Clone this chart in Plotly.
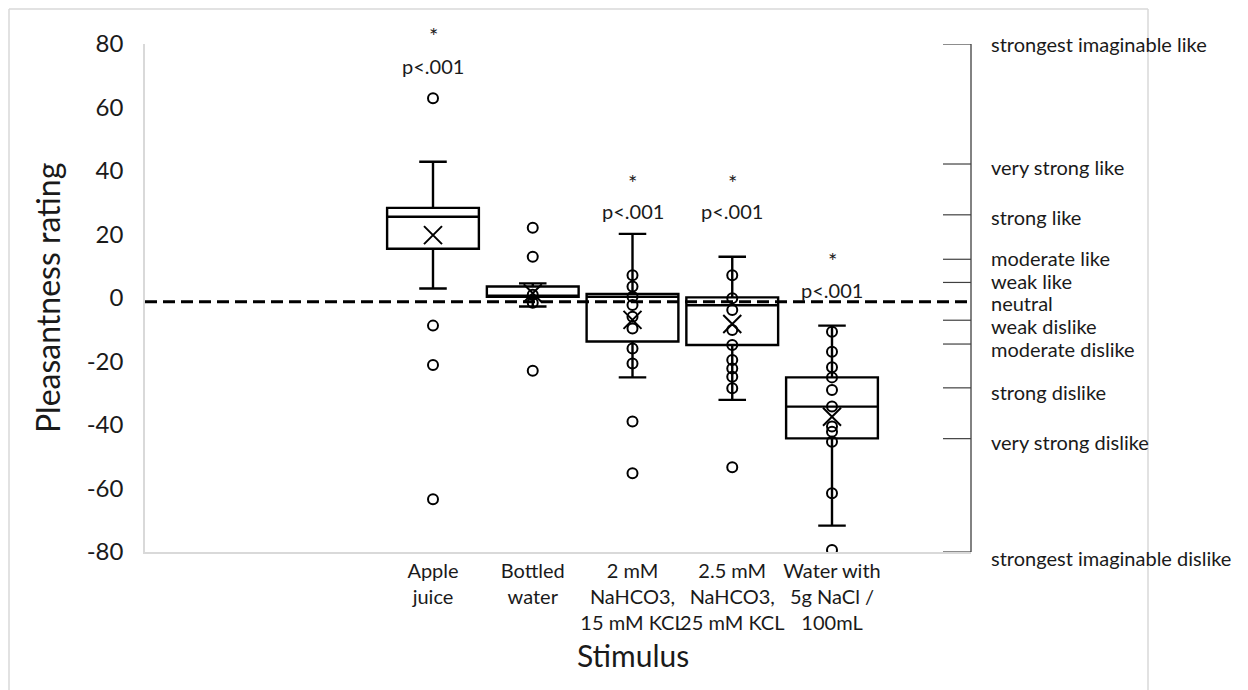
import plotly.graph_objects as go

# ---------------- data ----------------
categories = ["Apple<br>juice", "Bottled<br>water", "2 mM<br>NaHCO3,<br>15 mM KCL",
              "2.5 mM<br>NaHCO3,<br>25 mM KCL", "Water with<br>5g NaCl /<br>100mL"]
positions = [1, 2, 3, 4, 5]

q1 = [15.5, 0.4, -13.7, -14.8, -44.2]
median = [25.6, 0.5, 0.4, -2.3, -34.2]
q3 = [28.4, 3.6, 1.3, 0.2, -25.0]
lower_whisker = [3.0, -2.7, -25.0, -32.1, -71.7]
upper_whisker = [42.9, 4.6, 20.2, 13.0, -8.7]
means = [19.8, 1.5, -6.9, -8.2, -37.4]

points_apple = [62.9, -8.7, -21.1, -63.4]
points_bottled = [22.1, 13.0, 1.0, -1.5, -22.9]
points_nahco3_2 = [7.2, 3.6, 0.4, -2.2, -5.9, -9.6, -15.9, -20.6, -38.9, -55.2]
points_nahco3_25 = [7.2, -0.1, -3.8, -10.1, -14.8, -19.5, -22.2, -24.8, -28.4, -53.3]
points_nacl = [-10.6, -16.9, -21.8, -25.0, -29.0, -34.2, -40.5, -42.1, -45.3, -61.5, -79.4]
all_points = [points_apple, points_bottled, points_nahco3_2, points_nahco3_25, points_nacl]

significance = ["p<.001", "", "p<.001", "p<.001", "p<.001"]

neutral_value = -1.2
scale_labels = ["strongest imaginable like", "very strong like", "strong like", "moderate like",
                "weak like", "neutral", "weak dislike", "moderate dislike", "strong dislike",
                "very strong dislike", "strongest imaginable dislike"]
scale_values = [80, 42.2, 26.2, 12.2, 4.9, neutral_value, -7.0, -14.5, -28.3, -44.3, -80]

y_ticks = [80, 60, 40, 20, 0, -20, -40, -60, -80]

# ---------------- layout constants ----------------
OFF = 8  # default page body margin
W, H = 1248 - OFF, 690 - OFF
PL, PR, PT, PB = 145, 971, 44, 552  # plot area in page pixels
L, T = PL - OFF, PT - OFF
R = W - (PR - OFF)
B = H - (PB - OFF)
plot_w = PR - PL
plot_h = PB - PT
FONT = "Lato, 'Open Sans', sans-serif"
TXT = "#1a1a1a"
GRID = "#d9d9d9"


def px_x(px):
    return (px - PL) / plot_w


def px_y(px):
    return (PB - px) / plot_h


fig = go.Figure()

fig.add_trace(go.Box(
    x=positions, q1=q1, median=median, q3=q3,
    lowerfence=lower_whisker, upperfence=upper_whisker,
    boxpoints=False, width=0.92, whiskerwidth=0.3,
    line=dict(color="black", width=2.4), fillcolor="white",
    showlegend=False, hoverinfo="skip",
))

for pos, pts in zip(positions, all_points):
    fig.add_trace(go.Scatter(
        x=[pos] * len(pts), y=pts, mode="markers",
        marker=dict(symbol="circle-open", size=10, color="black", line=dict(width=2, color="black")),
        showlegend=False, hoverinfo="skip",
    ))

fig.add_trace(go.Scatter(
    x=positions, y=means, mode="markers",
    marker=dict(symbol="x-thin-open", size=18, color="black", line=dict(width=2, color="black")),
    showlegend=False, hoverinfo="skip",
))

shapes = []
# neutral dashed line
shapes.append(dict(type="line", xref="paper", yref="y", x0=0, x1=1, y0=neutral_value, y1=neutral_value,
                   line=dict(color="black", width=3, dash="12px,6px"), layer="above"))
# right-hand bracket
shapes.append(dict(type="line", xref="paper", yref="y", x0=1, x1=1, y0=-80, y1=80,
                   line=dict(color="#595959", width=1.5)))
for v, lab in zip(scale_values, scale_labels):
    if lab == "neutral":
        continue
    shapes.append(dict(type="line", xref="paper", yref="y", x0=px_x(943), x1=1, y0=v, y1=v,
                       line=dict(color="#404040", width=1.2)))
# chart frame
for (x0, y0, x1, y1) in [(9, 9, 9, 700), (9, 9, 1148, 9), (1148, 9, 1148, 700)]:
    shapes.append(dict(type="line", xref="paper", yref="paper",
                       x0=px_x(x0), x1=px_x(x1), y0=px_y(y0), y1=px_y(y1),
                       line=dict(color=GRID, width=1.5)))

annotations = []
label_shift = [0, -3, -2, 1, 1, -1, -6, -5, -4, -3, -6]
for v, lab, sh in zip(scale_values, scale_labels, label_shift):
    annotations.append(dict(x=px_x(989), xref="paper", y=v, yref="y", yshift=sh,
                            text=lab, showarrow=False, xanchor="left", yanchor="middle",
                            font=dict(family=FONT, size=20, color=TXT)))

# significance labels (page pixel y of "p<.001" and "*")
sig_px = [66, None, 211, 211, 290]
star_px = [35, None, 183, 183, 260]
for pos, s, py, sy in zip(positions, significance, sig_px, star_px):
    if not s:
        continue
    annotations.append(dict(x=pos, y=px_y(py), xref="x", yref="paper", text=s, showarrow=False,
                            xanchor="center", yanchor="middle",
                            font=dict(family=FONT, size=20, color=TXT)))
    annotations.append(dict(x=pos, y=px_y(sy), xref="x", yref="paper", text="*", showarrow=False,
                            xanchor="center", yanchor="middle",
                            font=dict(family=FONT, size=22, color=TXT)))

annotations.append(dict(x=px_x(47), y=px_y(298), xref="paper", yref="paper", text="Pleasantness rating",
                        textangle=-90, showarrow=False, xanchor="center", yanchor="middle",
                        font=dict(family=FONT, size=32, color=TXT)))
annotations.append(dict(x=px_x(633), y=px_y(655), xref="paper", yref="paper", text="Stimulus",
                        showarrow=False, xanchor="center", yanchor="middle",
                        font=dict(family=FONT, size=30, color=TXT)))

x_lo = 1 - (433 - PL) / 99.75
x_hi = x_lo + plot_w / 99.75

fig.update_layout(
    width=W, height=H, autosize=False,
    margin=dict(l=L, r=R, t=T, b=B, pad=0),
    paper_bgcolor="white", plot_bgcolor="white",
    font=dict(family=FONT, color=TXT),
    showlegend=False,
    shapes=shapes, annotations=annotations,
    xaxis=dict(range=[x_lo, x_hi], tickvals=positions, ticktext=categories,
               showgrid=False, zeroline=False, showline=True, linecolor=GRID, linewidth=1.5,
               ticks="", tickangle=0,
               tickfont=dict(family=FONT, size=20, color=TXT), fixedrange=True),
    yaxis=dict(range=[-80, 80], tickvals=y_ticks, ticktext=[str(t) for t in y_ticks],
               showgrid=False, zeroline=False, showline=True, linecolor=GRID, linewidth=1.5,
               ticks="outside", ticklen=15, tickcolor="rgba(0,0,0,0)",
               tickfont=dict(family=FONT, size=24, color=TXT), fixedrange=True),
)

fig.write_html("out.html")
